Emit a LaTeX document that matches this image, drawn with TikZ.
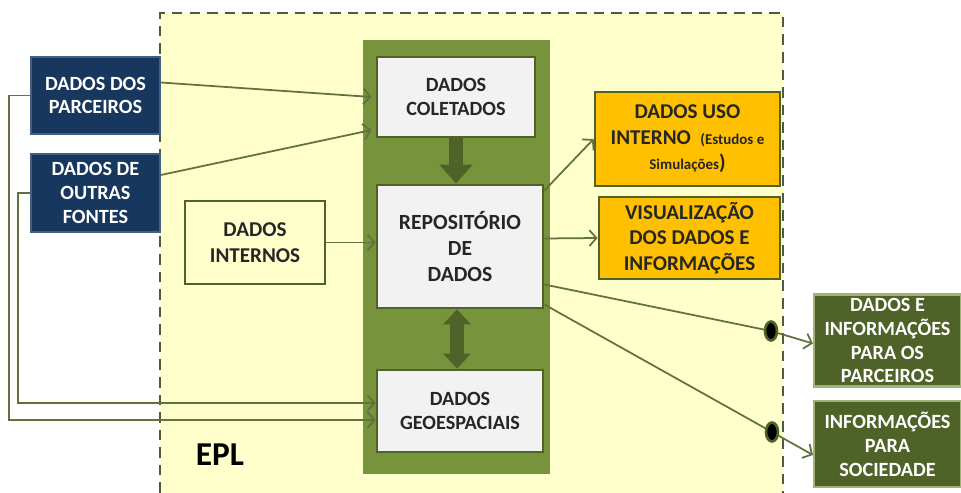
\documentclass[tikz,border=0pt]{standalone}
\usepackage{fontspec}
\setmainfont{Carlito}
\usetikzlibrary{arrows.meta}
\usetikzlibrary{calc}
\usetikzlibrary{positioning}
\usetikzlibrary{shapes.geometric}
\definecolor{eplyellow}{HTML}{FFFFCC}
\definecolor{colgreen}{HTML}{77933C}
\definecolor{darkgreen}{HTML}{4F6228}
\definecolor{boxgray}{HTML}{F2F2F2}
\definecolor{navyblue}{HTML}{17375E}
\definecolor{amber}{HTML}{FFC000}
\definecolor{dashgray}{HTML}{505A40}

\begin{document}
\begin{tikzpicture}[x=0.02cm,y=-0.02cm]
        \tikzset{box/.style = {align=center,line width=1.6pt,inner sep=2pt,font=\fontsize{11.5}{13.6}\selectfont\bfseries}}
        \tikzset{graybox/.style = {box,draw=darkgreen,fill=boxgray,text=black!85}}
        \tikzset{bluebox/.style = {box,draw=navyblue!80,fill=navyblue,text=white,line width=1pt}}
        \tikzset{ambox/.style = {box,draw=darkgreen,fill=amber,text=black!85,font=\fontsize{12}{14.5}\selectfont\bfseries}}
        \tikzset{outbox/.style = {box,draw=colgreen!70,fill=darkgreen,text=white,line width=1.2pt}}
        \tikzset{flow/.style = {-{Straight Barb[length=4pt,width=9pt]},draw=darkgreen!90,line width=1pt}}
        \tikzset{bigarrow/.style = {draw=darkgreen,line width=8pt}}
        \tikzset{dot/.style = {ellipse,fill=black,draw=darkgreen,line width=1.5pt,minimum width=0.24cm,minimum height=0.38cm,inner sep=0pt}}

        \useasboundingbox (0,0) rectangle (961,493);

        % EPL area and repository column
        \fill[eplyellow] (160,13) rectangle (783,493);
        \draw[dashgray,line width=1.3pt,dash pattern=on 6pt off 4pt] (160,493) -- (160,13) -- (783,13) -- (783,493);
        \fill[colgreen] (363,40) rectangle (550,474);
        \node[font=\fontsize{19}{22}\selectfont\bfseries] (epl) at (220,455) {EPL};

        \node[graybox,minimum width=3.16cm,minimum height=1.6cm] (coletados) at (456,97) {DADOS\\COLETADOS};
        \node[graybox,minimum width=3.32cm,minimum height=2.46cm,font=\fontsize{12.3}{14.6}\selectfont\bfseries] (repositorio) at (460,246.5) {REPOSITÓRIO\\DE\\DADOS};
        \node[graybox,minimum width=3.32cm,minimum height=1.64cm] (geo) at (460,411) {DADOS\\GEOESPACIAIS};

        \node[bluebox,minimum width=2.58cm,minimum height=1.54cm] (parceiros) at (95.5,95.5) {DADOS DOS\\PARCEIROS};
        \node[bluebox,minimum width=2.58cm,minimum height=1.56cm] (outras) at (95.5,193) {DADOS DE\\OUTRAS\\FONTES};
        \node[box,draw=darkgreen,fill=eplyellow,text=black!85,minimum width=2.8cm,minimum height=1.66cm,font=\fontsize{12}{14.5}\selectfont\bfseries] (internos) at (255,242.5) {DADOS\\INTERNOS};

        \node[ambox,minimum width=3.7cm,minimum height=1.88cm] (usoint) at (687.5,139) {DADOS USO\\INTERNO \ {\fontsize{8.5}{10}\selectfont(Estudos e}\\{\fontsize{8.5}{10}\selectfont Simulações}{)}};
        \node[ambox,minimum width=3.62cm,minimum height=1.64cm] (visual) at (689.5,238) {VISUALIZAÇÃO\\DOS DADOS E\\INFORMAÇÕES};

        \node[outbox,minimum width=2.94cm,minimum height=1.7cm] (infparc) at (887.5,340.5) {DADOS E\\INFORMAÇÕES\\PARA OS\\PARCEIROS};
        \node[outbox,minimum width=2.94cm,minimum height=1.72cm] (infsoc) at (887.5,444) {INFORMAÇÕES\\PARA\\SOCIEDADE};

        \node[dot] (dot1) at (771,331) {};
        \node[dot] (dot2) at (772,432) {};

        % thick arrows inside the column
        \draw[bigarrow,-{Triangle[length=0.38cm,width=0.64cm]}] (coletados.south) -- (coletados.south |- repositorio.north);
        \draw[bigarrow,{Triangle[length=0.3cm,width=0.54cm]}-{Triangle[length=0.3cm,width=0.54cm]}] ([xshift=-0.06cm]repositorio.south) -- ([xshift=-0.06cm]repositorio.south |- geo.north);

        % inputs
        \draw[flow] ($(parceiros.east)+(0,-13)$) -- ($(coletados.west)+(-4,0)$);
        \draw[flow] ($(outras.east)+(0,-18)$) -- ($(coletados.west)+(-4,33)$);
        \draw[flow] (internos.east) -- (repositorio.west |- internos.east);
        \draw[flow] (parceiros.west) -- ++(-21,0) |- ($(geo.west)+(0,9)$);
        \draw[flow] (outras.west) -- ++(-12,0) |- ($(geo.west)+(0,-8)$);

        % outputs
        \draw[flow] ($(repositorio.east)+(0,-56)$) -- (usoint.west);
        \draw[flow] ($(repositorio.east)+(0,-8)$) -- (visual.west);
        \draw[draw=darkgreen!90,line width=1pt] ($(repositorio.east)+(0,38)$) -- (dot1);
        \draw[draw=darkgreen!90,line width=1pt] ($(repositorio.east)+(0,58)$) -- (dot2);
        \draw[flow] (dot1) -- ($(infparc.west)+(0,3)$);
        \draw[flow] (dot2) -- ($(infsoc.west)+(0,11)$);
\end{tikzpicture}
\end{document}
